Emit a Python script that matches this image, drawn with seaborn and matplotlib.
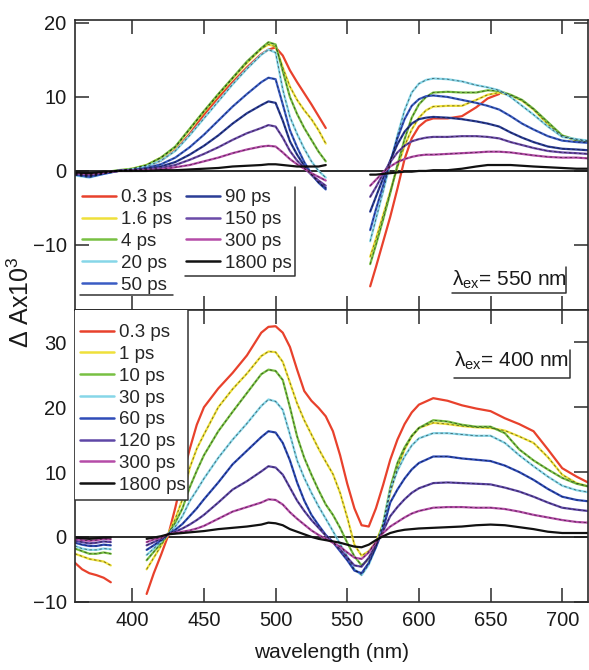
import numpy as np
import matplotlib
matplotlib.use("Agg")
import matplotlib.pyplot as plt
import seaborn as sns
from matplotlib.lines import Line2D
from matplotlib.patches import Rectangle

sns.set_theme(style="white")
plt.rcParams["font.family"] = ["Liberation Sans", "DejaVu Sans"]
plt.rcParams["mathtext.fontset"] = "custom"
plt.rcParams["mathtext.rm"] = "Liberation Sans"
plt.rcParams["mathtext.it"] = "Liberation Sans:italic"
plt.rcParams["mathtext.bf"] = "Liberation Sans:bold"

# ---------------- data: upper panel (excitation 550 nm) ----------------
top_nm_a = [360, 370, 380, 390, 400, 410, 420, 430, 440, 450, 460, 470, 480, 490,
            495, 500, 505, 510, 515, 520, 525, 530, 535]
top_nm_b = [566, 570, 575, 580, 585, 590, 595, 600, 605, 610, 620, 630, 640, 648,
            656, 664, 672, 680, 690, 700, 710, 718]
top_labels = ["0.3 ps", "1.6 ps", "4 ps", "20 ps", "50 ps",
              "90 ps", "150 ps", "300 ps", "1800 ps"]
top_colors = ["#e8412c", "#efe03a", "#78c043", "#86d6e8", "#3a5cc4",
              "#2b3d96", "#6b4ba8", "#b54ca8", "#111111"]

t_a_0p3 = [-0.4, -0.6, -0.3, 0.0, 0.2, 0.6, 1.4, 2.8, 5.0, 7.6, 9.9, 12.0, 14.0, 15.8, 16.4, 16.7, 15.6, 13.6, 12.0, 10.5, 9.0, 7.4, 5.8]
t_a_1p6 = [-0.5, -0.7, -0.3, 0.0, 0.3, 0.8, 1.8, 3.2, 5.6, 8.0, 10.3, 12.5, 14.6, 16.5, 17.1, 16.8, 14.0, 11.4, 9.6, 8.2, 7.0, 5.5, 3.7]
t_a_4 = [-0.4, -0.6, -0.2, 0.1, 0.3, 0.8, 1.8, 3.3, 5.7, 8.1, 10.4, 12.6, 14.8, 16.6, 17.4, 17.1, 13.5, 10.0, 7.7, 5.8, 4.2, 2.6, 1.3]
t_a_20 = [-0.6, -0.9, -0.4, 0.0, 0.2, 0.6, 1.4, 2.7, 4.8, 7.1, 9.4, 11.7, 13.8, 15.7, 16.4, 16.0, 11.0, 7.3, 5.0, 3.0, 1.3, 0.0, -0.9]
t_a_50 = [-0.5, -0.8, -0.4, 0.0, 0.1, 0.4, 0.9, 1.8, 3.2, 4.9, 6.8, 8.7, 10.4, 12.0, 12.6, 12.4, 9.0, 5.5, 3.2, 1.2, -0.4, -1.6, -2.5]
t_a_90 = [-0.4, -0.6, -0.3, 0.0, 0.1, 0.3, 0.6, 1.2, 2.2, 3.4, 4.8, 6.4, 7.8, 8.9, 9.4, 9.2, 6.8, 4.0, 2.2, 0.7, -0.5, -1.5, -2.3]
t_a_150 = [-0.3, -0.5, -0.2, 0.0, 0.1, 0.2, 0.4, 0.8, 1.5, 2.3, 3.2, 4.2, 5.1, 5.8, 6.2, 6.0, 4.5, 2.7, 1.4, 0.4, -0.5, -1.3, -2.0]
t_a_300 = [-0.3, -0.4, -0.2, 0.0, 0.0, 0.1, 0.2, 0.5, 0.8, 1.3, 1.8, 2.4, 2.9, 3.3, 3.4, 3.3, 2.5, 1.6, 0.9, 0.3, -0.3, -0.8, -1.3]
t_a_1800 = [-0.2, -0.3, -0.1, 0.0, 0.0, 0.0, 0.1, 0.1, 0.2, 0.3, 0.4, 0.6, 0.7, 0.8, 0.9, 0.9, 0.8, 0.7, 0.6, 0.6, 0.6, 0.6, 0.8]

nan = float("nan")
t_b_0p3 = [-15.6, -13.0, -9.6, -6.2, -2.4, 1.6, 4.4, 6.0, 6.8, 7.1, 7.1, 7.4, 8.6, 9.8, 10.4, nan, nan, nan, nan, nan, nan, nan]
t_b_1p6 = [-11.6, -9.2, -6.0, -2.8, 0.5, 3.4, 5.6, 7.2, 8.2, 8.7, 8.8, 8.8, 9.6, 10.3, 10.6, 10.2, 9.5, 8.3, 6.3, 4.7, 4.1, 3.9]
t_b_4 = [-12.6, -10.0, -6.6, -3.0, 0.8, 4.3, 7.2, 9.0, 10.0, 10.6, 10.7, 10.6, 10.6, 10.9, 10.8, 10.3, 9.6, 8.4, 6.6, 4.8, 4.2, 4.0]
t_b_20 = [-9.5, -6.5, -2.8, 1.0, 4.8, 8.2, 10.6, 11.8, 12.3, 12.5, 12.4, 12.1, 11.6, 11.3, 10.9, 10.0, 8.8, 7.6, 6.0, 4.6, 4.3, 4.1]
t_b_50 = [-8.0, -5.2, -2.0, 1.2, 4.4, 7.0, 8.8, 9.7, 10.1, 10.2, 10.0, 9.6, 9.2, 8.8, 8.3, 7.4, 6.4, 5.6, 4.7, 4.1, 3.9, 3.8]
t_b_90 = [-5.5, -3.5, -1.0, 1.4, 3.6, 5.3, 6.4, 7.0, 7.2, 7.3, 7.2, 7.0, 6.7, 6.4, 6.0, 5.2, 4.5, 3.9, 3.3, 3.0, 2.9, 2.8]
t_b_150 = [-3.5, -2.2, -0.4, 1.2, 2.5, 3.4, 4.0, 4.3, 4.5, 4.6, 4.6, 4.7, 4.7, 4.6, 4.4, 3.9, 3.5, 3.1, 2.7, 2.5, 2.4, 2.3]
t_b_300 = [-2.0, -1.2, -0.2, 0.6, 1.2, 1.6, 1.9, 2.1, 2.2, 2.2, 2.3, 2.4, 2.5, 2.6, 2.6, 2.5, 2.3, 2.1, 1.9, 1.8, 1.8, 1.7]
t_b_1800 = [-0.5, -0.5, -0.4, -0.3, -0.2, -0.1, -0.1, 0.0, 0.0, 0.1, 0.1, 0.3, 0.6, 0.8, 0.8, 0.8, 0.7, 0.6, 0.5, 0.4, 0.3, 0.3]

# ---------------- data: lower panel (excitation 400 nm) ----------------
bot_nm_a = [360, 365, 370, 375, 380, 385]
bot_nm_b = [410, 415, 420, 425, 430, 435, 440, 445, 450, 460, 470, 480, 490, 495,
            500, 505, 510, 515, 520, 525, 530, 535, 540, 545, 550, 555, 560, 565,
            570, 575, 580, 585, 590, 595, 600, 610, 620, 630, 640, 650, 660, 670,
            680, 690, 700, 710, 718]
bot_labels = ["0.3 ps", "1 ps", "10 ps", "30 ps", "60 ps", "120 ps", "300 ps", "1800 ps"]
bot_colors = ["#e8412c", "#efe03a", "#78c043", "#86d6e8", "#2f4cb8",
              "#5e47a6", "#b54ca8", "#111111"]

b_a_0p3 = [-4.0, -5.0, -5.6, -5.9, -6.3, -7.0]
b_a_1 = [-2.6, -3.0, -3.4, -3.6, -3.8, -4.4]
b_a_10 = [-1.8, -2.2, -2.6, -2.6, -2.4, -2.6]
b_a_30 = [-1.4, -1.8, -2.0, -2.0, -1.8, -1.9]
b_a_60 = [-0.9, -1.2, -1.4, -1.4, -1.2, -1.3]
b_a_120 = [-0.6, -0.8, -1.0, -0.9, -0.7, -0.8]
b_a_300 = [-0.3, -0.5, -0.6, -0.5, -0.3, -0.4]
b_a_1800 = [-0.1, -0.2, -0.3, -0.2, -0.1, -0.1]

b_b_0p3 = [-8.8, -5.6, -2.8, 0.2, 4.5, 9.2, 13.5, 17.3, 20.0, 22.9, 25.3, 28.0, 31.5, 32.4,
           32.5, 31.5, 29.3, 25.8, 22.5, 21.0, 19.9, 18.6, 16.3, 12.6, 8.2, 4.4, 1.8, 1.6,
           4.4, 8.0, 11.9, 15.0, 17.4, 19.2, 20.4, 21.4, 21.0, 20.3, 19.8, 19.4, 18.3, 17.4,
           16.3, 13.5, 10.6, 9.3, 8.4]
b_b_1 = [-5.0, -3.2, -1.4, 0.4, 2.8, 5.8, 10.6, 13.6, 15.8, 20.0, 22.8, 25.2, 27.9, 28.6,
         28.5, 27.0, 23.8, 20.6, 18.0, 15.8, 13.6, 11.6, 9.7, 6.8, 3.0, -1.2, -2.9, -2.2,
         -0.8, 2.0, 6.8, 10.6, 13.5, 15.5, 16.8, 17.6, 17.4, 17.1, 16.9, 16.8, 16.4, 15.5,
         14.5, 12.3, 9.6, 8.3, 7.8]
b_b_10 = [-3.6, -2.3, -1.0, 0.4, 2.2, 4.4, 7.6, 10.2, 12.6, 16.3, 19.3, 22.2, 25.1, 25.8,
          25.6, 24.2, 20.0, 15.5, 12.2, 9.6, 7.2, 5.0, 3.4, 1.4, -0.9, -3.0, -4.4, -3.4,
          -1.4, 2.0, 7.6, 11.4, 13.8, 15.6, 16.8, 18.0, 17.8, 17.3, 17.0, 17.0, 16.0, 13.5,
          11.8, 10.4, 9.1, 8.2, 7.8]
b_b_30 = [-2.8, -1.8, -0.7, 0.4, 1.6, 3.2, 5.5, 7.2, 9.0, 12.2, 15.0, 17.5, 20.2, 21.2,
          20.9, 19.6, 15.8, 11.8, 9.1, 6.8, 4.7, 2.8, 0.9, -1.1, -3.0, -5.0, -5.9, -4.3,
          -1.6, 1.8, 7.2, 10.2, 12.4, 14.1, 15.2, 16.0, 16.0, 15.8, 15.6, 15.6, 14.5, 12.6,
          10.9, 9.3, 7.9, 7.2, 6.9]
b_b_60 = [-2.0, -1.3, -0.5, 0.4, 1.1, 2.0, 3.2, 4.4, 5.8, 8.4, 11.2, 13.3, 15.4, 16.3,
          16.1, 14.5, 11.8, 8.4, 5.6, 3.4, 1.8, 0.3, -0.8, -2.2, -3.6, -5.2, -5.6, -4.0,
          -1.6, 1.2, 5.3, 7.3, 9.0, 10.4, 11.4, 12.4, 12.4, 12.1, 11.9, 11.7, 11.0, 10.0,
          8.8, 7.4, 6.2, 5.7, 5.5]
b_b_120 = [-1.3, -0.8, -0.3, 0.4, 0.8, 1.3, 1.9, 2.6, 3.4, 5.3, 7.3, 8.6, 10.1, 10.9,
           10.7, 9.6, 7.6, 5.6, 4.0, 2.6, 1.4, 0.2, -0.8, -1.9, -3.2, -4.4, -4.6, -3.2,
           -1.2, 0.9, 3.2, 4.6, 5.8, 6.8, 7.5, 8.3, 8.4, 8.3, 8.2, 8.1, 7.6, 7.0,
           6.2, 5.3, 4.5, 4.2, 4.0]
b_b_300 = [-0.8, -0.4, -0.1, 0.4, 0.6, 0.8, 1.0, 1.3, 1.7, 2.8, 3.9, 4.6, 5.3, 5.8,
           5.7, 5.0, 3.8, 2.8, 1.9, 1.0, 0.3, -0.3, -0.9, -1.5, -2.4, -3.2, -3.4, -2.4,
           -0.8, 0.6, 1.6, 2.3, 3.0, 3.6, 4.0, 4.5, 4.6, 4.6, 4.5, 4.5, 4.3, 3.9,
           3.4, 3.0, 2.6, 2.3, 2.2]
b_b_1800 = [-0.3, -0.1, 0.1, 0.4, 0.5, 0.6, 0.7, 0.8, 0.9, 1.2, 1.4, 1.6, 1.9, 2.2,
            2.1, 1.8, 1.2, 0.8, 0.4, 0.0, -0.3, -0.5, -0.7, -0.9, -1.2, -1.5, -1.6, -1.2,
            -0.5, 0.1, 0.6, 0.9, 1.1, 1.2, 1.3, 1.4, 1.5, 1.6, 1.8, 1.9, 1.8, 1.5,
            1.2, 0.8, 0.6, 0.6, 0.6]

top_seg_a = [t_a_0p3, t_a_1p6, t_a_4, t_a_20, t_a_50, t_a_90, t_a_150, t_a_300, t_a_1800]
top_seg_b = [t_b_0p3, t_b_1p6, t_b_4, t_b_20, t_b_50, t_b_90, t_b_150, t_b_300, t_b_1800]
bot_seg_a = [b_a_0p3, b_a_1, b_a_10, b_a_30, b_a_60, b_a_120, b_a_300, b_a_1800]
bot_seg_b = [b_b_0p3, b_b_1, b_b_10, b_b_30, b_b_60, b_b_120, b_b_300, b_b_1800]

# ---------------- figure ----------------
fig = plt.figure(figsize=(5.89, 6.70), dpi=100)
ax1 = fig.add_axes([0.1273, 0.5373, 0.871, 0.4328])
ax2 = fig.add_axes([0.1273, 0.1019, 0.871, 0.4354])

SP = "#2a2a2a"
TXT = "#1a1a1a"


def draw_series(ax, xs_a, xs_b, seg_a, seg_b, colors):
    for i, (ya, yb) in enumerate(zip(seg_a, seg_b)):
        c = colors[i]
        for xs, ys in ((xs_a, ya), (xs_b, yb)):
            sns.lineplot(x=xs, y=ys, color=c, lw=1.6, ax=ax, legend=False,
                         estimator=None, sort=False, zorder=2)
            if i not in (0, len(colors) - 1):
                sns.lineplot(x=xs, y=ys, color="black", lw=0.6, alpha=0.55,
                             linestyle=(0, (3, 3)), ax=ax, legend=False,
                             estimator=None, sort=False, zorder=2.1)


draw_series(ax1, top_nm_a, top_nm_b, top_seg_a, top_seg_b, top_colors)
draw_series(ax2, bot_nm_a, bot_nm_b, bot_seg_a, bot_seg_b, bot_colors)

for ax in (ax1, ax2):
    ax.axhline(0, color=TXT, lw=1.3, zorder=1.5)
    ax.set_xlim(360, 718)
    ax.set_xticks([400, 450, 500, 550, 600, 650, 700])
    ax.tick_params(direction="in", length=10, width=1.1, top=True, right=True,
                   bottom=True, left=True, colors=SP, labelcolor=TXT,
                   labelsize=14.5, pad=6)
    for s in ax.spines.values():
        s.set_color(SP)
        s.set_linewidth(1.2)
    ax.set_xlabel("")
    ax.set_ylabel("")

ax1.set_ylim(-18.8, 20.4)
ax1.set_yticks([-10, 0, 10, 20])
ax1.tick_params(labelbottom=False)

ax2.set_ylim(-10, 35)
ax2.set_yticks([-10, 0, 10, 20, 30])
ax2.tick_params(axis="x", pad=7)
ax2.set_xlabel("wavelength (nm)", fontsize=15, labelpad=9, color=TXT)

fig.text(0.036, 0.549, r"Δ Ax10$^{3}$", rotation=90, fontsize=18,
         ha="center", va="center", color=TXT)

# ---------------- legends ----------------
def handles(labels, colors):
    return [Line2D([0], [0], color=c, lw=1.8) for c in colors], labels

leg_kw = dict(loc="upper left", frameon=False, fontsize=13.5, handlelength=1.8,
              handletextpad=0.3, labelspacing=0.25, borderpad=0, borderaxespad=0)

h, l = handles(top_labels[:5], top_colors[:5])
legA = ax1.legend(h, l, bbox_to_anchor=(0.0136, 0.4166), **leg_kw)
ax1.add_artist(legA)
h, l = handles(top_labels[5:], top_colors[5:])
legB = ax1.legend(h, l, bbox_to_anchor=(0.2164, 0.4166), **leg_kw)

h, l = handles(bot_labels, bot_colors)
ax2.add_patch(Rectangle((0, 0.349), 0.220, 0.651, transform=ax2.transAxes,
                        facecolor="white", edgecolor="none", zorder=3))
legC = ax2.legend(h, l, bbox_to_anchor=(0.0097, 0.952), **leg_kw)
legC.set_zorder(5)


def frame_line(ax, xs, ys):
    ax.add_line(Line2D(xs, ys, transform=ax.transAxes, color="#333333", lw=1.1,
                       clip_on=False, zorder=6))


frame_line(ax1, [0.010, 0.191], [0.052, 0.052])
frame_line(ax1, [0.214, 0.429, 0.429], [0.117, 0.117, 0.424])
frame_line(ax2, [0.0, 0.220, 0.220], [0.349, 0.349, 1.0])

# excitation annotations
ax1.text(0.735, 0.083, r"λ$_{\mathrm{ex}}$= 550 nm", transform=ax1.transAxes,
         fontsize=15, ha="left", va="baseline", color=TXT)
frame_line(ax1, [0.735, 0.958, 0.958], [0.058, 0.058, 0.148])
ax2.text(0.739, 0.805, r"λ$_{\mathrm{ex}}$= 400 nm", transform=ax2.transAxes,
         fontsize=15, ha="left", va="baseline", color=TXT)
frame_line(ax2, [0.739, 0.964, 0.964], [0.766, 0.766, 0.863])

fig.savefig("out.png", dpi=100)
